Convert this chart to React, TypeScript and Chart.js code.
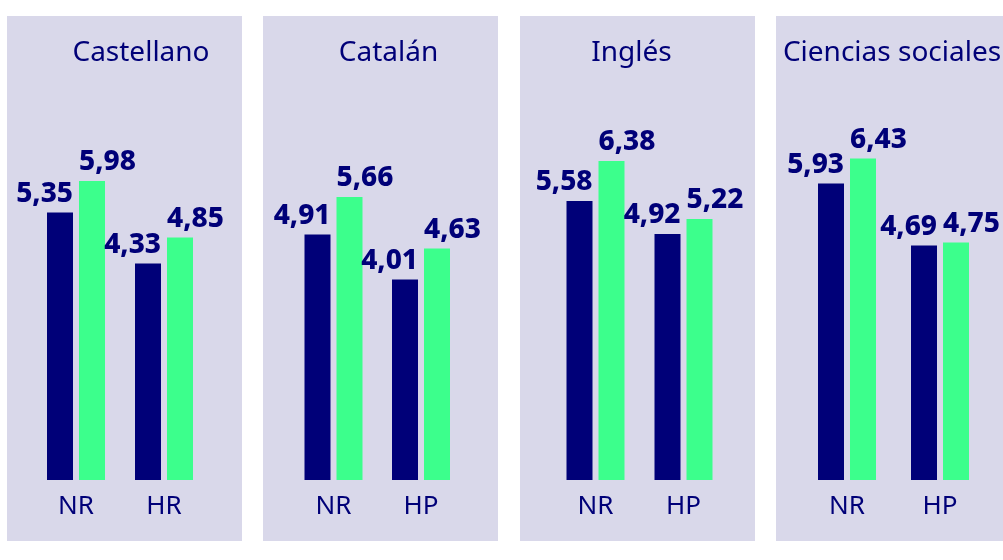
import React, { useEffect, useRef } from "react";
import { Chart, registerables } from "chart.js";

Chart.register(...registerables);

// ---- data ----
const subjects = ["Castellano", "Catalán", "Inglés", "Ciencias sociales"];
const groupLabels = [
  ["NR", "HR"],
  ["NR", "HP"],
  ["NR", "HP"],
  ["NR", "HP"],
];
const darkValues = [
  [5.35, 4.33],
  [4.91, 4.01],
  [5.58, 4.92],
  [5.93, 4.69],
];
const greenValues = [
  [5.98, 4.85],
  [5.66, 4.63],
  [6.38, 5.22],
  [6.43, 4.75],
];

// ---- style / layout ----
const NAVY = "#000078";
const GREEN = "#3cff8c";
const PANEL_BG = "#d9d8ea";
const FONT = "'Noto Sans', 'Open Sans', sans-serif";

const PANEL_TOP = 16;
const PANEL_W = 235;
const PANEL_H = 525;
const panelLefts = [7, 263, 520, 776];
const firstGroupCenters = [69, 70.5, 75.5, 71];
const groupSpacings = [88, 87.5, 88, 93];
const titleCenters = [134, 125.5, 111.5, 116];
const BAR_W = 26;
const BAR_GAP = 6;

function fmt(v: number) {
  return v.toFixed(2).replace(".", ",");
}

function Panel({ idx }: { idx: number }) {
  const ref = useRef<HTMLCanvasElement | null>(null);
  useEffect(() => {
    if (!ref.current) return;
    const spacing = groupSpacings[idx];
    const c1 = firstGroupCenters[idx];
    const padLeft = c1 - spacing / 2;
    const padRight = PANEL_W - (c1 + spacing * 1.5);
    const slot = BAR_W + BAR_GAP;
    const catPct = (slot * 2) / spacing;
    const barPct = BAR_W / slot;

    const labelPlugin = {
      id: "panelLabels",
      afterDatasetsDraw(chart: any) {
        const ctx = chart.ctx;
        ctx.save();
        // title
        ctx.fillStyle = NAVY;
        ctx.font = `400 28px ${FONT}`;
        ctx.textAlign = "center";
        ctx.textBaseline = "middle";
        ctx.fillText(subjects[idx], titleCenters[idx], 37);
        // values
        ctx.font = `800 28px ${FONT}`;
        ctx.textBaseline = "alphabetic";
        chart.data.datasets.forEach((ds: any, di: number) => {
          const meta = chart.getDatasetMeta(di);
          meta.data.forEach((bar: any, i: number) => {
            const v = ds.data[i];
            const half = bar.width / 2;
            if (di === 0) {
              ctx.textAlign = "right";
              ctx.fillText(fmt(v), bar.x + half, bar.y - 11);
            } else {
              ctx.textAlign = "left";
              ctx.fillText(fmt(v), bar.x - half, bar.y - 11);
            }
          });
        });
        ctx.restore();
      },
    };

    const chart = new Chart(ref.current, {
      type: "bar",
      data: {
        labels: groupLabels[idx],
        datasets: [
          {
            data: darkValues[idx],
            backgroundColor: NAVY,
            categoryPercentage: catPct,
            barPercentage: barPct,
          },
          {
            data: greenValues[idx],
            backgroundColor: GREEN,
            categoryPercentage: catPct,
            barPercentage: barPct,
          },
        ],
      },
      options: {
        responsive: false,
        animation: false,
        layout: {
          padding: { top: 64, bottom: 7.8, left: padLeft, right: padRight },
        },
        plugins: {
          legend: { display: false },
          tooltip: { enabled: false },
          title: { display: false },
        },
        scales: {
          y: { display: false, min: 0, max: 8 },
          x: {
            grid: { display: false, drawTicks: false },
            border: { display: false },
            ticks: {
              color: NAVY,
              font: { family: FONT, size: 26, weight: "400" as any },
              padding: 11,
            },
          },
        },
      },
      plugins: [labelPlugin],
    });
    return () => chart.destroy();
  }, [idx]);

  return (
    <div
      style={{
        position: "absolute",
        left: panelLefts[idx],
        top: PANEL_TOP,
        width: PANEL_W,
        height: PANEL_H,
        background: PANEL_BG,
      }}
    >
      <canvas
        ref={ref}
        width={PANEL_W}
        height={PANEL_H}
        style={{ width: PANEL_W, height: PANEL_H, display: "block" }}
      />
    </div>
  );
}

export default function App() {
  return (
    <div
      style={{
        position: "absolute",
        left: 0,
        top: 0,
        width: 1003,
        height: 560,
        overflow: "hidden",
        background: "#ffffff",
      }}
    >
      {subjects.map((_, i) => (
        <Panel key={i} idx={i} />
      ))}
    </div>
  );
}
